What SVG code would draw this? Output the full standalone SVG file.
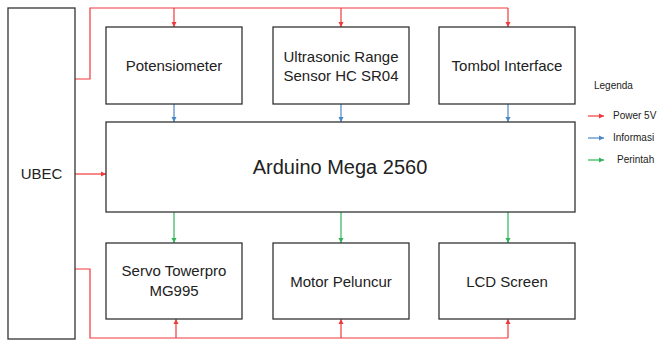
<svg xmlns="http://www.w3.org/2000/svg" width="659" height="342" viewBox="0 0 659 342">
<style>
.box{fill:#fff;stroke:#333;stroke-width:1.3}
.t{font-family:"Liberation Sans",Arial,sans-serif;font-size:15px;fill:#222;text-anchor:middle}
.big{font-size:20px}
.lg{font-family:"Liberation Sans",Arial,sans-serif;font-size:10px;fill:#222}
.r{stroke:#f0393b;stroke-width:1.2;fill:none}
.b{stroke:#4a86c8;stroke-width:1.2;fill:none}
.g{stroke:#2fb45a;stroke-width:1.2;fill:none}
</style>
<defs>
<marker id="ar" markerWidth="6" markerHeight="6" refX="5" refY="3" orient="auto" markerUnits="userSpaceOnUse"><path d="M0,0.5 L5,3 L0,5.5 Z" fill="#f0393b"/></marker>
<marker id="ab" markerWidth="6" markerHeight="6" refX="5" refY="3" orient="auto" markerUnits="userSpaceOnUse"><path d="M0,0.5 L5,3 L0,5.5 Z" fill="#4a86c8"/></marker>
<marker id="ag" markerWidth="6" markerHeight="6" refX="5" refY="3" orient="auto" markerUnits="userSpaceOnUse"><path d="M0,0.5 L5,3 L0,5.5 Z" fill="#2fb45a"/></marker>
</defs>
<rect width="659" height="342" fill="#fff"/>
<g id="connectors">
<path class="r" d="M75,79 H90 V8 H508"/>
<path class="r" d="M174,8 V27" marker-end="url(#ar)"/>
<path class="r" d="M341,8 V27" marker-end="url(#ar)"/>
<path class="r" d="M508,8 V27" marker-end="url(#ar)"/>
<path class="r" d="M75,174 H106" marker-end="url(#ar)"/>
<path class="r" d="M75,269 H90 V338 H508"/>
<path class="r" d="M176,338 V319" marker-end="url(#ar)"/>
<path class="r" d="M341,338 V319" marker-end="url(#ar)"/>
<path class="r" d="M508,338 V319" marker-end="url(#ar)"/>
<path class="b" d="M174,104 V122" marker-end="url(#ab)"/>
<path class="b" d="M341,104 V122" marker-end="url(#ab)"/>
<path class="b" d="M508,104 V122" marker-end="url(#ab)"/>
<path class="g" d="M174,212 V243" marker-end="url(#ag)"/>
<path class="g" d="M341,212 V243" marker-end="url(#ag)"/>
<path class="g" d="M508,212 V243" marker-end="url(#ag)"/>
</g>
<g id="ubec"><rect class="box" x="8" y="8" width="67" height="331"/><text class="t" x="41.5" y="179">UBEC</text></g>
<g id="potensiometer"><rect class="box" x="106" y="27" width="136" height="77"/><text class="t" x="174" y="71">Potensiometer</text></g>
<g id="ultrasonic"><rect class="box" x="273" y="27" width="136" height="77"/><text class="t" x="341" y="62">Ultrasonic Range</text><text class="t" x="341" y="81">Sensor HC SR04</text></g>
<g id="tombol"><rect class="box" x="439" y="27" width="136" height="77"/><text class="t" x="507" y="71">Tombol Interface</text></g>
<g id="arduino"><rect class="box" x="106" y="122" width="469" height="90"/><text class="t big" x="340" y="174">Arduino Mega 2560</text></g>
<g id="servo"><rect class="box" x="106" y="243" width="136" height="76"/><text class="t" x="174" y="276">Servo Towerpro</text><text class="t" x="174" y="296">MG995</text></g>
<g id="motor"><rect class="box" x="273" y="243" width="136" height="76"/><text class="t" x="341" y="287">Motor Peluncur</text></g>
<g id="lcd"><rect class="box" x="439" y="243" width="136" height="76"/><text class="t" x="507" y="287">LCD Screen</text></g>
<g id="legend">
<text class="lg" x="594" y="89">Legenda</text>
<path class="r" d="M588,116 H604" marker-end="url(#ar)"/>
<text class="lg" x="613" y="119">Power 5V</text>
<path class="b" d="M588,138 H604" marker-end="url(#ab)"/>
<text class="lg" x="613" y="141">Informasi</text>
<path class="g" d="M588,160 H604" marker-end="url(#ag)"/>
<text class="lg" x="617" y="163">Perintah</text>
</g>
</svg>
